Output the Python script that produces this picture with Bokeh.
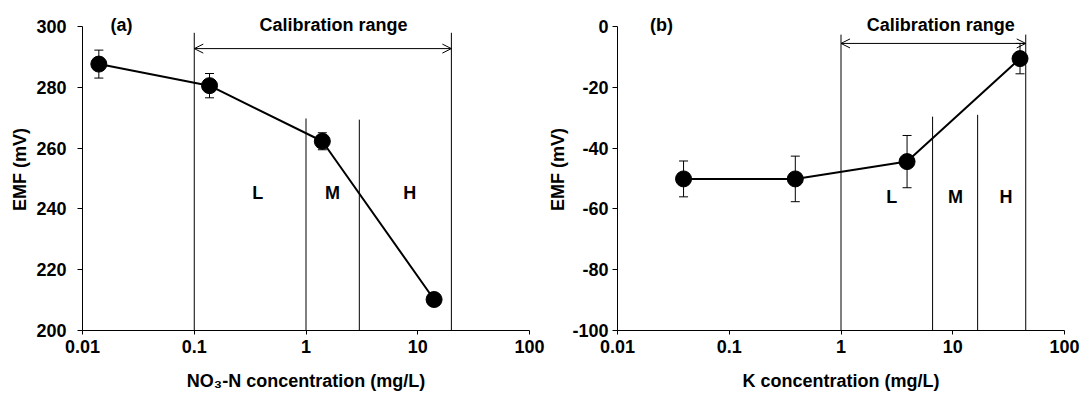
from bokeh.plotting import figure
from bokeh.layouts import row
from bokeh.models import (Range1d, FixedTicker, CustomJSTickFormatter, PrintfTickFormatter,
                          Whisker, TeeHead, ColumnDataSource, Arrow, OpenHead, Label)
from bokeh.embed import file_html
from bokeh.resources import INLINE

FONT = "Liberation Sans"

x_ticks = [0.01, 0.1, 1, 10, 100]

# Panel (a): NO3-N electrode
a_conc = [0.014, 0.137, 1.4, 14.0]
a_emf = [287.7, 280.6, 262.3, 210.2]
a_sd = [4.6, 4.0, 2.8, 0.0]
a_yticks = [200, 220, 240, 260, 280, 300]
a_bounds = [0.1, 1.0, 3.0, 20.0]
a_bound_tops = [298.0, 269.8, 269.4, 298.0]
a_zone_x = [0.37, 1.73, 8.5]

# Panel (b): K electrode
b_conc = [0.039, 0.39, 3.9, 40.0]
b_emf = [-50.1, -50.1, -44.4, -10.5]
b_sd = [5.9, 7.5, 8.6, 5.0]
b_yticks = [-100, -80, -60, -40, -20, 0]
b_bounds = [1.0, 6.6, 16.7, 45.0]
b_bound_tops = [-2.6, -29.6, -29.0, -2.6]
b_zone_x = [2.84, 10.6, 30.0]

zone_names = ["L", "M", "H"]


def make_panel(tag, tag_x, conc, emf, sd, ylims, yticks, bounds, tops, cal_y, cal_x, zone_x, zone_y,
               xlabel, bl, br, s1, s2):
    y0, y1 = ylims
    p = figure(x_axis_type="log", x_range=Range1d(0.01, 100), y_range=Range1d(y0, y1 + 6),
               frame_width=447, frame_height=322,
               min_border_left=bl, min_border_right=br, min_border_top=8, min_border_bottom=66,
               toolbar_location=None, output_backend="svg")
    p.outline_line_color = None
    p.grid.visible = False
    p.background_fill_color = "white"
    p.border_fill_color = "white"

    # axes
    p.xaxis.ticker = FixedTicker(ticks=x_ticks)
    p.xaxis.formatter = CustomJSTickFormatter(code="return tick.toString();")
    p.yaxis.ticker = FixedTicker(ticks=yticks)
    p.yaxis.formatter = PrintfTickFormatter(format="%d")
    p.yaxis.bounds = (y0, y1)
    for ax in (p.xaxis[0], p.yaxis[0]):
        ax.axis_line_color = "black"
        ax.axis_line_width = 1
        ax.major_tick_line_color = "black"
        ax.major_tick_in = 0
        ax.minor_tick_line_color = None
        ax.major_label_text_font = FONT
        ax.major_label_text_font_style = "bold"
        ax.major_label_text_font_size = "18px"
        ax.major_label_text_color = "black"
        ax.axis_label_text_font = FONT
        ax.axis_label_text_font_style = "bold"
        ax.axis_label_text_font_size = "18px"
        ax.axis_label_text_color = "black"
    p.xaxis.major_tick_out = 4
    p.xaxis.major_label_standoff = 5
    p.xaxis.axis_label_standoff = 15
    p.xaxis.axis_label = xlabel
    p.yaxis.major_tick_out = 5
    p.yaxis.major_label_standoff = s1
    p.yaxis.axis_label_standoff = s2
    p.yaxis.axis_label = "EMF (mV)"

    # range boundary lines
    p.segment(x0=bounds, x1=bounds, y0=[y0] * len(bounds), y1=tops,
              line_color="black", line_width=1)

    # calibration range arrow
    p.add_layout(Arrow(start=OpenHead(size=9, line_width=1, line_color="black"),
                       end=OpenHead(size=9, line_width=1, line_color="black"),
                       x_start=bounds[0], x_end=bounds[-1], y_start=cal_y, y_end=cal_y,
                       line_color="black", line_width=1))

    # data
    src = ColumnDataSource(dict(x=conc, y=emf,
                                lo=[e - s for e, s in zip(emf, sd)],
                                hi=[e + s for e, s in zip(emf, sd)]))
    p.add_layout(Whisker(source=src, base="x", upper="hi", lower="lo", dimension="height",
                         line_color="black", line_width=1,
                         upper_head=TeeHead(size=9, line_color="black", line_width=1),
                         lower_head=TeeHead(size=9, line_color="black", line_width=1)))
    p.line("x", "y", source=src, line_color="black", line_width=2)
    p.scatter("x", "y", source=src, size=16, fill_color="black", line_color="black")

    # texts
    def lab(x, y, t):
        p.add_layout(Label(x=x, y=y, text=t, text_font=FONT, text_font_style="bold",
                           text_font_size="18px", text_align="center", text_baseline="middle",
                           text_color="black"))
    lab(tag_x, y1 + 0.7, tag)
    lab(cal_x, y1 + 0.7, "Calibration range")
    for zx, zn in zip(zone_x, zone_names):
        lab(zx, zone_y, zn)
    return p


pa = make_panel("(a)", 0.0223, a_conc, a_emf, a_sd, (200, 300), a_yticks, a_bounds, a_bound_tops,
                292.8, 1.76, a_zone_x, 245.3, "NO\u2083-N concentration (mg/L)",
                bl=82, br=16, s1=11, s2=3)
pb = make_panel("(b)", 0.0247, b_conc, b_emf, b_sd, (-100, 0), b_yticks, b_bounds, b_bound_tops,
                -5.5, 7.8, b_zone_x, -56.0, "K concentration (mg/L)",
                bl=70, br=17, s1=4, s2=1)

layout = row(pa, pb)
open("out.html", "w").write(file_html(layout, INLINE))
